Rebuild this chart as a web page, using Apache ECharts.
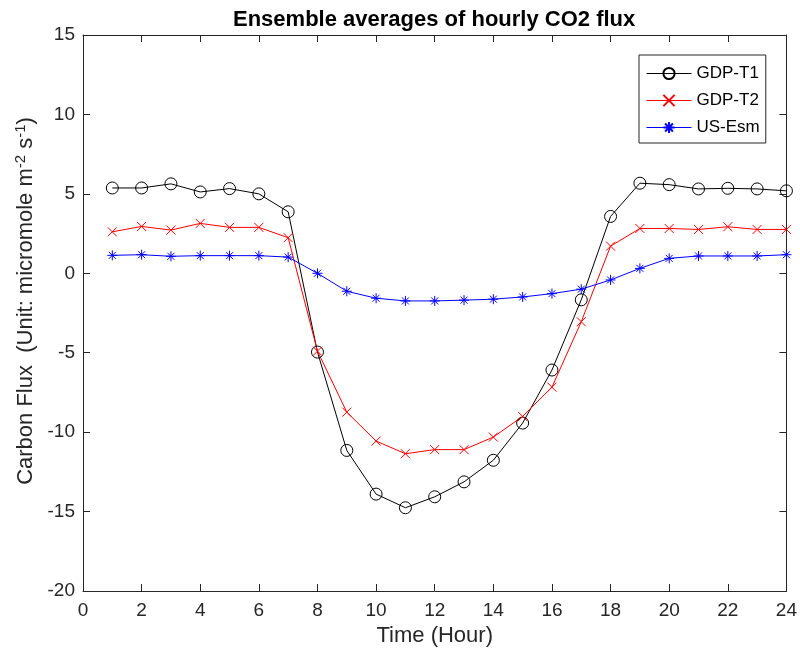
<!DOCTYPE html>
<html>
<head>
<meta charset="utf-8">
<script src="https://cdn.jsdelivr.net/npm/echarts@6/dist/echarts.min.js"></script>
<style>html,body{margin:0;padding:0;background:#fff}#chart{width:800px;height:654px}</style>
</head>
<body>
<div id="chart"></div>
<script>
var hours = [1,2,3,4,5,6,7,8,9,10,11,12,13,14,15,16,17,18,19,20,21,22,23,24];
var gdpT1 = [5.37,5.37,5.63,5.12,5.33,5.0,3.87,-4.96,-11.15,-13.9,-14.76,-14.07,-13.13,-11.77,-9.43,-6.09,-1.67,3.58,5.67,5.58,5.31,5.35,5.31,5.19];
var gdpT2 = [2.61,2.95,2.72,3.14,2.89,2.89,2.24,-4.9,-8.74,-10.56,-11.36,-11.1,-11.1,-10.31,-9.01,-7.17,-3.05,1.71,2.82,2.82,2.76,2.93,2.76,2.76];
var usEsm = [1.13,1.17,1.07,1.11,1.11,1.11,1.02,0.0,-1.13,-1.57,-1.74,-1.74,-1.69,-1.63,-1.49,-1.28,-1.0,-0.42,0.31,0.94,1.09,1.09,1.09,1.17];
var seriesNames = ['GDP-T1','GDP-T2','US-Esm'];
var xTicks = {min:0, max:24, interval:2};
var yTicks = {min:-20, max:15, interval:5};

function pairs(v){ return hours.map(function(h,i){ return [h, v[i]]; }); }

var FONT = 'Liberation Sans, Arial, Helvetica, sans-serif';
var AX = '#262626';
var xMark = 'path://M0,0L10,10M10,0L0,10';
var starMark = 'path://M5,0L5,10M0,5L10,5M1.5,1.5L8.5,8.5M8.5,1.5L1.5,8.5';

var chart = echarts.init(document.getElementById('chart'), null, {renderer:'canvas'});
var axisCommon = {
  axisLine:{show:true, onZero:false, lineStyle:{color:AX, width:1}},
  axisTick:{show:true, inside:true, length:7, lineStyle:{color:AX, width:1}},
  splitLine:{show:false}
};
chart.setOption({
  animation:false,
  backgroundColor:'#fff',
  title:{
    text:'Ensemble averages of hourly CO2 flux',
    left:233, top:9, padding:0,
    textStyle:{fontFamily:FONT, fontSize:22, fontWeight:'bold', color:'#000'}
  },
  legend:{
    orient:'vertical', left:639, top:55,
    padding:[10,6,7,7], itemGap:10, itemWidth:45, itemHeight:14,
    backgroundColor:'#fff', borderColor:AX, borderWidth:1,
    textStyle:{fontFamily:FONT, fontSize:17, color:'#000'},
    lineStyle:{width:1},
    data:seriesNames
  },
  grid:{left:83, right:12, top:35, bottom:63},
  xAxis:[
    Object.assign({
      type:'value', min:xTicks.min, max:xTicks.max, interval:xTicks.interval, position:'bottom',
      name:'Time (Hour)', nameLocation:'middle', nameGap:30,
      nameTextStyle:{fontFamily:FONT, fontSize:22, color:'#262626'},
      axisLabel:{fontFamily:FONT, fontSize:19, color:'#262626', margin:10}
    }, axisCommon),
    Object.assign({
      type:'value', min:xTicks.min, max:xTicks.max, interval:xTicks.interval, position:'top',
      axisLabel:{show:false}
    }, axisCommon)
  ],
  yAxis:[
    Object.assign({
      type:'value', min:yTicks.min, max:yTicks.max, interval:yTicks.interval, position:'left',
      name:'Carbon Flux  (Unit: micromole m{sup|-2} s{sup|-1})', nameLocation:'middle', nameGap:44, nameRotate:90,
      nameTextStyle:{fontFamily:FONT, fontSize:22, color:'#262626', padding:[0,0,0,24],
        rich:{sup:{fontFamily:FONT, fontSize:15, color:'#262626', verticalAlign:'top', padding:[0,0,9,0]}}},
      axisLabel:{fontFamily:FONT, fontSize:19, color:'#262626', margin:8}
    }, axisCommon),
    Object.assign({
      type:'value', min:yTicks.min, max:yTicks.max, interval:yTicks.interval, position:'right',
      axisLabel:{show:false}
    }, axisCommon)
  ],
  series:[
    {name:seriesNames[0], type:'line', data:pairs(gdpT1), symbol:'circle', symbolSize:12,
     lineStyle:{color:'#000', width:1}, itemStyle:{color:'rgba(0,0,0,0)', borderColor:'#000', borderWidth:1}},
    {name:seriesNames[1], type:'line', data:pairs(gdpT2), symbol:xMark, symbolSize:9,
     lineStyle:{color:'#ff0000', width:1}, itemStyle:{color:'rgba(0,0,0,0)', borderColor:'#ff0000', borderWidth:1}},
    {name:seriesNames[2], type:'line', data:pairs(usEsm), symbol:starMark, symbolSize:10,
     lineStyle:{color:'#0000ff', width:1}, itemStyle:{color:'rgba(0,0,0,0)', borderColor:'#0000ff', borderWidth:1}}
  ]
});
</script>
</body>
</html>
